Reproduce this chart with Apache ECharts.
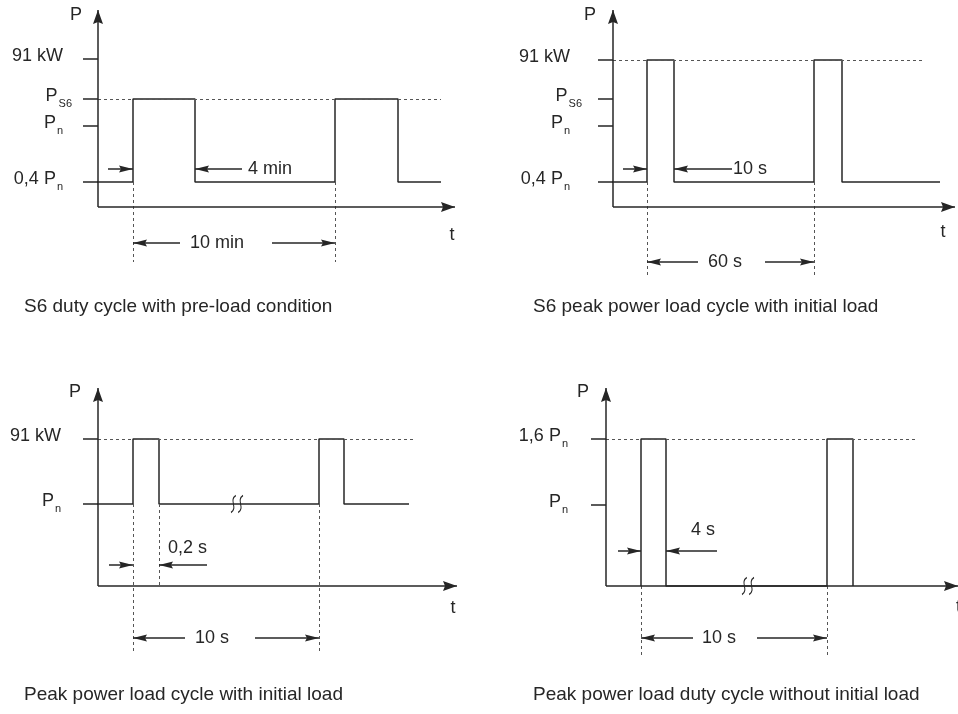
<!DOCTYPE html>
<html>
<head>
<meta charset="utf-8">
<title>Duty cycles</title>
<script src="https://cdn.jsdelivr.net/npm/echarts@6.0.0/dist/echarts.min.js"></script>
<style>
  html, body { margin: 0; background: #fff; }
  #chart { width: 958px; height: 714px; }
</style>
</head>
<body>
<div id="chart"></div>
<script>
// Values are schematic drawing units, measured from the point where the axes cross
// (time to the right, power upwards). Segments are [x1, y1, x2, y2], arrows point at x2.

const captions = [
  'S6 duty cycle with pre-load condition',
  'S6 peak power load cycle with initial load',
  'Peak power load cycle with initial load',
  'Peak power load duty cycle without initial load'
]

// S6 duty cycle with pre-load condition
const levels1 = [25, 81, 108, 148]
const levelLabels1 = ['0,4 P_n', 'P_n', 'P_S6', '91 kW']
const waveX1 = [-15, 35, 35, 97, 97, 237, 237, 300, 300, 343]
const waveY1 = [25, 25, 108, 108, 25, 25, 108, 108, 25, 25]
const guides1 = [[0, 108, 343, 108], [35, 25, 35, -55], [237, 25, 237, -55]]
const dims1 = [[10, 38, 35, 38], [144, 38, 97, 38], [82, -36, 35, -36], [174, -36, 237, -36]]
const notes1 = [['4 min', 150, 38, 'left'], ['10 min', 119, -36, 'center'], ['P', -22, 192, 'center'], ['t', 354, -28, 'center']]
const breaks1 = []
const axisEnd1 = [357, 197]

// S6 peak power load cycle with initial load
const levels2 = [25, 81, 108, 147]
const levelLabels2 = ['0,4 P_n', 'P_n', 'P_S6', '91 kW']
const waveX2 = [-16, 34, 34, 61, 61, 201, 201, 229, 229, 327]
const waveY2 = [25, 25, 147, 147, 25, 25, 147, 147, 25, 25]
const guides2 = [[0, 147, 312, 147], [34, 25, 34, -70], [201, 25, 201, -70]]
const dims2 = [[10, 38, 34, 38], [119, 38, 61, 38], [85, -55, 34, -55], [152, -55, 201, -55]]
const notes2 = [['10 s', 120, 38, 'left'], ['60 s', 112, -55, 'center'], ['P', -23, 192, 'center'], ['t', 330, -25, 'center']]
const breaks2 = []
const axisEnd2 = [342, 197]

// Peak power load cycle with initial load
const levels3 = [82, 147]
const levelLabels3 = ['P_n', '91 kW']
const waveX3 = [-15, 35, 35, 61, 61, 221, 221, 246, 246, 311]
const waveY3 = [82, 82, 147, 147, 82, 82, 147, 147, 82, 82]
const guides3 = [[0, 147, 316, 147], [35, 82, 35, -67], [61, 82, 61, 0], [221, 82, 221, -67]]
const dims3 = [[11, 21, 35, 21], [109, 21, 61, 21], [87, -52, 35, -52], [157, -52, 221, -52]]
const notes3 = [['0,2 s', 109, 38, 'right'], ['10 s', 114, -52, 'center'], ['P', -23, 194, 'center'], ['t', 355, -22, 'center']]
const breaks3 = [[139, 82]]
const axisEnd3 = [359, 198]

// Peak power load duty cycle without initial load
const levels4 = [81, 147]
const levelLabels4 = ['P_n', '1,6 P_n']
const waveX4 = [35, 35, 60, 60, 221, 221, 247, 247]
const waveY4 = [0, 147, 147, 0, 0, 147, 147, 0]
const guides4 = [[0, 147, 311, 147], [35, 0, 35, -69], [221, 0, 221, -69]]
const dims4 = [[12, 35, 35, 35], [111, 35, 60, 35], [87, -52, 35, -52], [151, -52, 221, -52]]
const notes4 = [['4 s', 97, 56, 'center'], ['10 s', 113, -52, 'center'], ['P', -23, 194, 'center'], ['t', 350, -21, 'left']]
const breaks4 = [[142, 0]]
const axisEnd4 = [352, 198]

const panels = [
  { levels: levels1, labels: levelLabels1, waveX: waveX1, waveY: waveY1, guides: guides1, dims: dims1, notes: notes1, breaks: breaks1, axisEnd: axisEnd1 },
  { levels: levels2, labels: levelLabels2, waveX: waveX2, waveY: waveY2, guides: guides2, dims: dims2, notes: notes2, breaks: breaks2, axisEnd: axisEnd2 },
  { levels: levels3, labels: levelLabels3, waveX: waveX3, waveY: waveY3, guides: guides3, dims: dims3, notes: notes3, breaks: breaks3, axisEnd: axisEnd3 },
  { levels: levels4, labels: levelLabels4, waveX: waveX4, waveY: waveY4, guides: guides4, dims: dims4, notes: notes4, breaks: breaks4, axisEnd: axisEnd4 }
]

// layout and styling
const font = '"Liberation Sans", Arial, sans-serif'
const ink = '#262626'
const guideStyle = { type: [3, 3], color: '#555', width: 1 }
const solidStyle = { type: 'solid', color: ink, width: 1.5 }
const axisArrow = { path: 'path://M5,0L10,14L5,12L0,14Z', size: [10, 14] }
const dimArrow = { path: 'path://M4,0L8,14L4,12L0,14Z', size: [7, 14] }
const breakMark = 'path://M6,0C0,4 8,10 2,14M12,0C6,4 14,10 8,14'

// the y axis sits on the left edge of each grid; marks left of it are drawn unclipped
const Y_MIN = -75
const Y_MAX = 200
const origins = [[98, 207], [613, 207], [98, 586], [606, 586]]
const xMaxes = [360, 345, 360, 352]
const labelMargins = [26, 31, 37, 38]
const labelPads = [9, 12, 0, 0]
const captionPos = [[19, 292], [528, 292], [19, 680], [528, 680]]

// 'P_n' -> P with subscript n
function richLabel(s, pad) {
  const m = s.match(/^(.*)_(\w+)$/)
  let out = m ? '{t|' + m[1] + '}{n|' + m[2] + '}' : '{t|' + s + '}'
  if (pad && !(m && m[2] === 'S6')) out += '{g| }'
  return out
}

function segment(s, style, arrow) {
  const to = { coord: [s[2], s[3]] }
  if (arrow) {
    to.symbol = arrow.path
    to.symbolSize = arrow.size
    to.symbolOffset = [0, arrow.size[1] / 2]
  }
  return [{ coord: [s[0], s[1]], lineStyle: style }, to]
}

const grid = []
const xAxis = []
const yAxis = []
const series = []

panels.forEach((p, i) => {
  const [ox, oy] = origins[i]
  grid.push({
    left: ox, top: oy - Y_MAX,
    width: xMaxes[i], height: Y_MAX - Y_MIN,
    containLabel: false, outerBoundsMode: 'none'
  })
  xAxis.push({
    type: 'value', gridIndex: i, min: 0, max: xMaxes[i],
    axisLine: { show: false, onZero: false },
    axisTick: { show: false },
    axisLabel: { show: false },
    splitLine: { show: false }
  })
  yAxis.push({
    type: 'value', gridIndex: i, min: Y_MIN, max: Y_MAX,
    axisLine: { show: false, onZero: false },
    axisTick: { show: true, customValues: p.levels, length: 15, lineStyle: { color: ink, width: 1.5 } },
    axisLabel: {
      show: true,
      customValues: p.levels,
      margin: labelMargins[i],
      formatter: v => richLabel(p.labels[p.levels.indexOf(v)], labelPads[i]),
      rich: {
        t: { fontSize: 18, lineHeight: 18, padding: [0, 0, 6, 0], color: ink, fontFamily: font },
        n: { fontSize: 11, lineHeight: 11, padding: [10, 0, 0, 1], color: ink, fontFamily: font },
        g: { width: labelPads[i] }
      }
    },
    splitLine: { show: false }
  })

  const lines = []
  p.guides.forEach(g => lines.push(segment(g, guideStyle)))
  lines.push(segment([0, 0, p.axisEnd[0], 0], solidStyle, axisArrow))
  lines.push(segment([0, 0, 0, p.axisEnd[1]], solidStyle, axisArrow))
  p.dims.forEach(d => lines.push(segment(d, solidStyle, dimArrow)))

  series.push({
    type: 'line', xAxisIndex: i, yAxisIndex: i, data: [], z: 1, silent: true,
    markLine: {
      silent: true, animation: false,
      symbol: ['none', 'none'],
      label: { show: false },
      emphasis: { disabled: true },
      lineStyle: solidStyle,
      data: lines
    }
  })
  series.push({
    type: 'line', xAxisIndex: i, yAxisIndex: i, z: 2, silent: true, clip: false,
    data: p.waveX.map((x, k) => [x, p.waveY[k]]),
    symbol: 'none',
    lineStyle: { color: ink, width: 1.5 }
  })
  series.push({
    type: 'scatter', xAxisIndex: i, yAxisIndex: i, z: 5, silent: true, clip: false,
    symbolSize: 1,
    itemStyle: { color: 'rgba(0,0,0,0)', opacity: 1 },
    label: { show: true, position: 'inside', verticalAlign: 'middle', fontSize: 18, color: ink, opacity: 1, fontFamily: font },
    data: p.notes.map(n => ({ value: [n[1], n[2]], label: { formatter: n[0], align: n[3] } }))
  })
  if (p.breaks.length) {
    series.push({
      type: 'scatter', xAxisIndex: i, yAxisIndex: i, z: 6, silent: true, clip: false,
      symbol: breakMark, symbolSize: [12, 17],
      itemStyle: { color: 'rgba(0,0,0,0)', borderColor: ink, borderWidth: 1.2, opacity: 1 },
      data: p.breaks
    })
  }
})

const chart = echarts.init(document.getElementById('chart'), null, { renderer: 'canvas' })
chart.setOption({
  animation: false,
  backgroundColor: '#fff',
  textStyle: { fontFamily: font },
  title: captions.map((c, i) => ({
    text: c,
    left: captionPos[i][0], top: captionPos[i][1],
    textStyle: { fontSize: 19, fontWeight: 'normal', color: ink, fontFamily: font }
  })),
  grid: grid,
  xAxis: xAxis,
  yAxis: yAxis,
  series: series
})
</script>
</body>
</html>
